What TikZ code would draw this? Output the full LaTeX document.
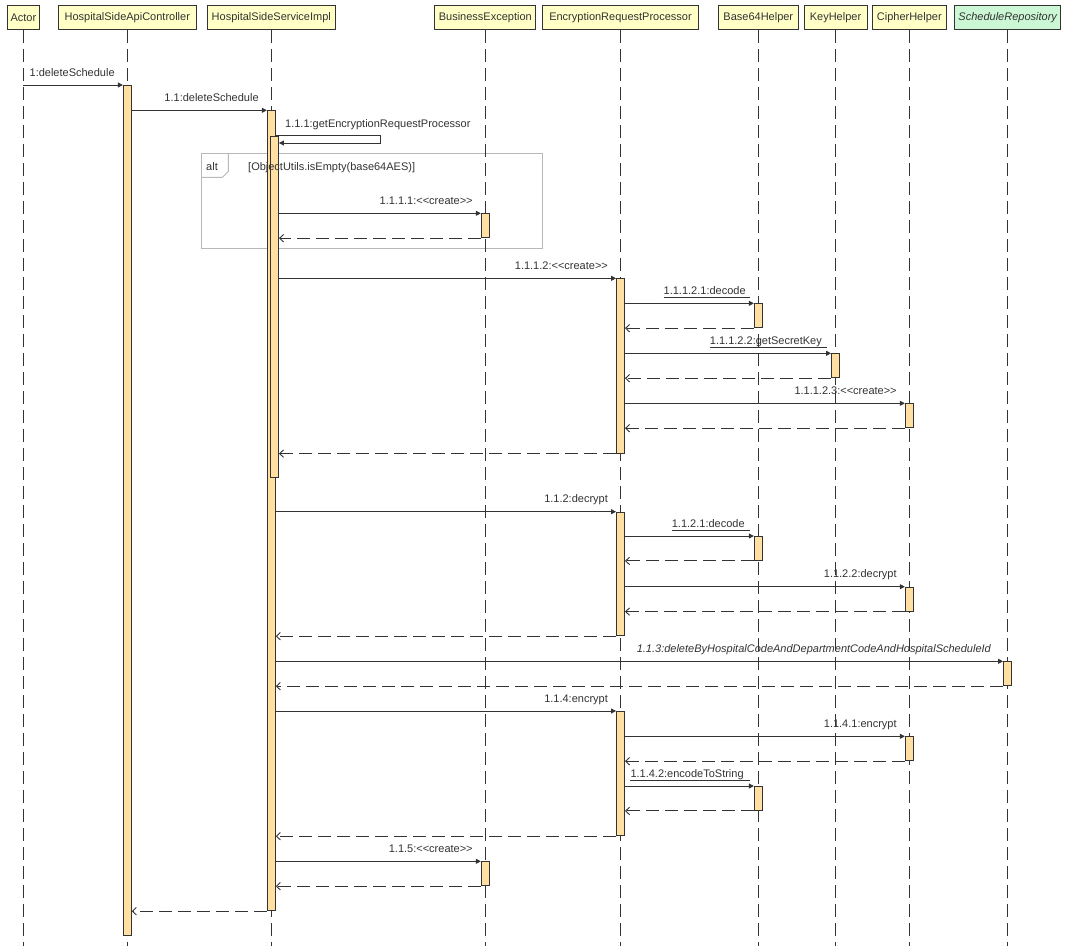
\documentclass[tikz,border=0pt]{standalone}
\usepackage{fontspec}
\setmainfont{Liberation Sans}
\usetikzlibrary{arrows.meta,calc}
\definecolor{ink}{HTML}{333333}
\definecolor{headfill}{HTML}{FFFFC6}
\definecolor{barfill}{HTML}{FFDFA2}
\definecolor{repofill}{HTML}{CCF7D4}
\definecolor{framegray}{HTML}{B8B8B8}
\begin{document}
\begin{tikzpicture}[x=1pt,y=-1pt,
  font=\fontsize{11}{13}\selectfont,
  every node/.style={text=ink},
  head/.style={draw=ink, line width=0.9pt, fill=headfill, minimum height=24.5pt, inner sep=0pt},
  life/.style={draw=ink, line width=0.9pt, dash pattern=on 13pt off 6pt},
  actbar/.style={draw=ink, line width=0.9pt, fill=barfill, minimum width=8pt, inner sep=0pt, anchor=north},
  call/.style={draw=ink, line width=0.9pt, -{Triangle[length=5pt,width=5pt]}},
  ret/.style={draw=ink, line width=0.9pt, dash pattern=on 13pt off 6pt, -{Straight Barb[length=4pt,width=7.5pt]}},
  lbl/.style={anchor=base east, inner sep=0pt},
  uline/.style={draw=ink, line width=0.8pt},
]
\useasboundingbox (0,0) rectangle (1078,946);
\fill[white] (0,0) rectangle (1078,946);
\coordinate (bottom) at (0,946);

% alt frame
\draw[framegray, line width=0.9pt] (201.3,153.3) rectangle (542.3,248);
\draw[framegray, line width=0.9pt] (201.3,177.3) -- (222.5,177.3) -- (228.3,171.5) -- (228.3,153.3);
\node[anchor=base west, inner sep=0pt] (altkw) at (206,170.7) {alt};

% participants
\node[head, minimum width=32.4pt]  (actor) at (23.4,17.3)   {Actor};
\node[head, minimum width=137.6pt] (api)   at (127.3,17.3)  {HospitalSideApiController};
\node[head, minimum width=128.2pt] (svc)   at (271.3,17.3)  {HospitalSideServiceImpl};
\node[head, minimum width=101pt]   (bex)   at (485.3,17.3)  {BusinessException};
\node[head, minimum width=156.7pt] (enc)   at (620.5,17.3)  {EncryptionRequestProcessor};
\node[head, minimum width=79.7pt]  (b64)   at (758.3,17.3)  {Base64Helper};
\node[head, minimum width=62.9pt]  (key)   at (835.5,17.3)  {KeyHelper};
\node[head, minimum width=74.4pt]  (ciph)  at (909.3,17.3)  {CipherHelper};
\node[head, minimum width=106pt, fill=repofill] (repo) at (1007.7,17.3) {\itshape ScheduleRepository};

% lifelines
\foreach \p in {actor,api,svc,bex,enc,b64,key,ciph,repo}
  \draw[life] (\p.south) -- (\p.south |- bottom);

% activation bars
\node[actbar, minimum height=850pt]   (apiB)   at (127.3,85)    {};
\node[actbar, minimum height=800pt]   (svcB)   at (271.3,110.3) {};
\node[actbar, minimum height=341.3pt] (svcI)   at (274.5,135.7) {};
\node[actbar, minimum height=24pt]    (bexB1)  at (485.3,213.3) {};
\node[actbar, minimum height=174.4pt] (encB1)  at (620.5,278.3) {};
\node[actbar, minimum height=24pt]    (b64B1)  at (758.3,303.3) {};
\node[actbar, minimum height=24pt]    (keyB)   at (835.5,353.3) {};
\node[actbar, minimum height=24pt]    (ciphB1) at (909.3,403.3) {};
\node[actbar, minimum height=123.6pt] (encB2)  at (620.5,511.7) {};
\node[actbar, minimum height=24pt]    (b64B2)  at (758.3,536)   {};
\node[actbar, minimum height=24pt]    (ciphB2) at (909.3,586.7) {};
\node[actbar, minimum height=24pt]    (repoB)  at (1007.5,661.3) {};
\node[actbar, minimum height=124.3pt] (encB3)  at (620.5,711)   {};
\node[actbar, minimum height=24pt]    (ciphB3) at (909.3,736.3) {};
\node[actbar, minimum height=24pt]    (b64B3)  at (758.3,786)   {};
\node[actbar, minimum height=24pt]    (bexB2)  at (485.3,861.3) {};

% guard of the alt fragment
\node[anchor=base west, inner sep=0pt] (guard) at (248,170.7) {[ObjectUtils.isEmpty(base64AES)]};

% 1 deleteSchedule
\draw[call] (actor.south |- apiB.north) -- (apiB.north west);
\node[lbl] (m1) at ($(apiB.north west)+(-8,-9)$) {1:deleteSchedule};
% 1.1 deleteSchedule
\draw[call] (apiB.east |- svcB.north) -- (svcB.north west);
\node[lbl] (m11) at ($(svcB.north west)+(-8,-9)$) {1.1:deleteSchedule};
% 1.1.1 self call
\coordinate (loopA) at (380.3,135.7);
\coordinate (loopB) at (380.3,143);
\draw[call] (svcB.east |- svcI.north) -- (loopA) -- (loopB) -- (svcI.east |- loopB);
\node[anchor=base west, inner sep=0pt] (m111) at (285,127.3) {1.1.1:getEncryptionRequestProcessor};
% 1.1.1.1 create
\draw[call] (svcI.east |- bexB1.north) -- (bexB1.north west);
\node[lbl] (m1111) at ($(bexB1.north west)+(-8,-9)$) {1.1.1.1:<{}<create>{}>};
\draw[ret] (bexB1.south west) -- (svcI.east |- bexB1.south);
% 1.1.1.2 create
\draw[call] (svcI.east |- encB1.north) -- (encB1.north west);
\node[lbl] (m1112) at ($(encB1.north west)+(-8,-9)$) {1.1.1.2:<{}<create>{}>};
% 1.1.1.2.1 decode
\draw[call] (encB1.east |- b64B1.north) -- (b64B1.north west);
\node[lbl] (m11121) at ($(b64B1.north west)+(-8,-9)$) {1.1.1.2.1:decode};
\draw[uline] ($(m11121.base west)+(0,3)$) -- ($(b64B1.north west)+(-4,-6)$);
\draw[ret] (b64B1.south west) -- (encB1.east |- b64B1.south);
% 1.1.1.2.2 getSecretKey
\draw[call] (encB1.east |- keyB.north) -- (keyB.north west);
\node[lbl] (m11122) at ($(keyB.north west)+(-9,-9)$) {1.1.1.2.2:getSecretKey};
\draw[uline] ($(m11122.base west)+(0,3)$) -- ($(keyB.north west)+(-4,-6)$);
\draw[ret] (keyB.south west) -- (encB1.east |- keyB.south);
% 1.1.1.2.3 create
\draw[call] (encB1.east |- ciphB1.north) -- (ciphB1.north west);
\node[lbl] (m11123) at ($(ciphB1.north west)+(-8,-9)$) {1.1.1.2.3:<{}<create>{}>};
\draw[ret] (ciphB1.south west) -- (encB1.east |- ciphB1.south);
\draw[ret] (encB1.south west) -- (svcI.east |- encB1.south);
% 1.1.2 decrypt
\draw[call] (svcB.east |- encB2.north) -- (encB2.north west);
\node[lbl] (m112) at ($(encB2.north west)+(-8,-9)$) {1.1.2:decrypt};
\draw[call] (encB2.east |- b64B2.north) -- (b64B2.north west);
\node[lbl] (m1121) at ($(b64B2.north west)+(-9,-9)$) {1.1.2.1:decode};
\draw[uline] ($(m1121.base west)+(0,3)$) -- ($(b64B2.north west)+(-4,-6)$);
\draw[ret] (b64B2.south west) -- (encB2.east |- b64B2.south);
\draw[call] (encB2.east |- ciphB2.north) -- (ciphB2.north west);
\node[lbl] (m1122) at ($(ciphB2.north west)+(-8,-9)$) {1.1.2.2:decrypt};
\draw[ret] (ciphB2.south west) -- (encB2.east |- ciphB2.south);
\draw[ret] (encB2.south west) -- (svcB.east |- encB2.south);
% 1.1.3 repository call
\draw[call] (svcB.east |- repoB.north) -- (repoB.north west);
\node[lbl] (m113) at ($(repoB.north west)+(-12,-9)$) {\itshape 1.1.3:deleteByHospitalCodeAndDepartmentCodeAndHospitalScheduleId};
\draw[ret] (repoB.south west) -- (svcB.east |- repoB.south);
% 1.1.4 encrypt
\draw[call] (svcB.east |- encB3.north) -- (encB3.north west);
\node[lbl] (m114) at ($(encB3.north west)+(-8,-9)$) {1.1.4:encrypt};
\draw[call] (encB3.east |- ciphB3.north) -- (ciphB3.north west);
\node[lbl] (m1141) at ($(ciphB3.north west)+(-8,-9)$) {1.1.4.1:encrypt};
\draw[ret] (ciphB3.south west) -- (encB3.east |- ciphB3.south);
\draw[call] (encB3.east |- b64B3.north) -- (b64B3.north west);
\node[lbl] (m1142) at ($(b64B3.north west)+(-10,-9)$) {1.1.4.2:encodeToString};
\draw[uline] ($(m1142.base west)+(0,3)$) -- ($(b64B3.north west)+(-4,-6)$);
\draw[ret] (b64B3.south west) -- (encB3.east |- b64B3.south);
\draw[ret] (encB3.south west) -- (svcB.east |- encB3.south);
% 1.1.5 create
\draw[call] (svcB.east |- bexB2.north) -- (bexB2.north west);
\node[lbl] (m115) at ($(bexB2.north west)+(-8,-9)$) {1.1.5:<{}<create>{}>};
\draw[ret] (bexB2.south west) -- (svcB.east |- bexB2.south);
% final return
\draw[ret] (svcB.south west) -- (apiB.east |- svcB.south);
\end{tikzpicture}
\end{document}
